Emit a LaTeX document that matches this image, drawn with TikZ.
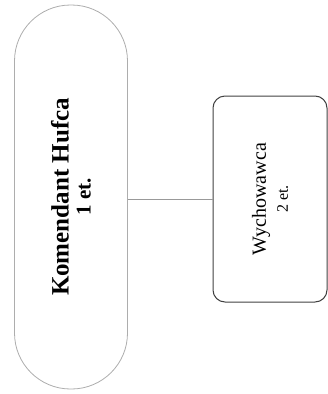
\documentclass[tikz,border=0pt]{standalone}
\usepackage{fontspec}
\setmainfont{Liberation Serif}
\begin{document}
\begin{tikzpicture}[x=1pt,y=-1pt,
  stadium/.style={draw=black!32, line width=0.8pt, rounded corners=56pt,
    rotate=90, minimum width=384pt, minimum height=113pt, align=center,
    inner sep=0pt},
  unitbox/.style={draw=black!75, line width=1pt, rounded corners=12pt,
    rotate=90, minimum width=206pt, minimum height=114pt, align=center,
    inner sep=0pt},
  link/.style={draw=black!40, line width=0.8pt}]
  \useasboundingbox (0,0) rectangle (328,394);
  \node[stadium] (chief) at (71,197)
    {\fontsize{25}{29}\selectfont\bfseries Komendant Hufca\\[7pt]
     \fontsize{21}{29}\selectfont\bfseries 1 et.};
  \node[unitbox] (tutor) at (270,199)
    {\fontsize{20}{27}\selectfont Wychowawca\\[6pt]
     \fontsize{16}{27}\selectfont 2 et.};
  \draw[link] (chief.south |- tutor.north) -- (tutor.north);
\end{tikzpicture}
\end{document}
